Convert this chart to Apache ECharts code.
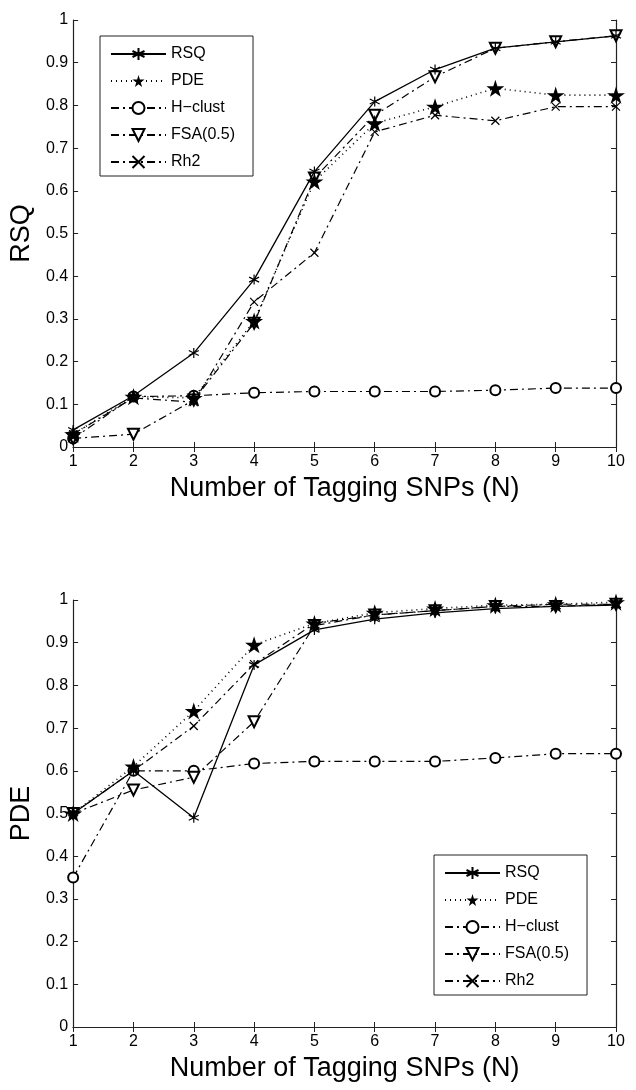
<!DOCTYPE html>
<html>
<head>
<meta charset="utf-8">
<script src="https://cdn.jsdelivr.net/npm/echarts@6/dist/echarts.min.js"></script>
<style>
  html, body { margin: 0; padding: 0; background: #fff; }
  #main { width: 636px; height: 1090px; }
</style>
</head>
<body>
<div id="main"></div>
<script>
// x axis: number of tagging SNPs
var snps = [1, 2, 3, 4, 5, 6, 7, 8, 9, 10];
var methods = ['RSQ', 'PDE', 'H\u2212clust', 'FSA(0.5)', 'Rh2'];

// top panel (RSQ)
var rsqTop   = [0.040, 0.120, 0.220, 0.392, 0.645, 0.809, 0.884, 0.934, 0.949, 0.963];
var pdeTop   = [0.030, 0.118, 0.115, 0.295, 0.622, 0.758, 0.797, 0.840, 0.824, 0.824];
var hclTop   = [0.020, 0.118, 0.120, 0.127, 0.130, 0.130, 0.130, 0.133, 0.138, 0.138];
var fsaTop   = [0.020, 0.030, 0.110, 0.290, 0.630, 0.777, 0.867, 0.934, 0.949, 0.963];
var rh2Top   = [0.030, 0.115, 0.105, 0.340, 0.455, 0.738, 0.777, 0.764, 0.797, 0.797];

// bottom panel (PDE)
var rsqBot   = [0.500, 0.600, 0.490, 0.848, 0.930, 0.955, 0.970, 0.980, 0.985, 0.988];
var pdeBot   = [0.500, 0.610, 0.740, 0.895, 0.945, 0.970, 0.980, 0.988, 0.990, 0.995];
var hclBot   = [0.350, 0.600, 0.600, 0.617, 0.622, 0.622, 0.622, 0.630, 0.640, 0.640];
var fsaBot   = [0.500, 0.555, 0.585, 0.715, 0.940, 0.965, 0.975, 0.985, 0.985, 0.990];
var rh2Bot   = [0.500, 0.600, 0.705, 0.850, 0.945, 0.965, 0.975, 0.985, 0.990, 0.990];

var font = 'Liberation Sans, Arial, sans-serif';

// marker shapes
var asterisk = 'path://M5,0 L5,10 M0.67,2.5 L9.33,7.5 M0.67,7.5 L9.33,2.5';
var star = 'path://M50,0 L61,35 L98,35 L68,57 L79,91 L50,70 L21,91 L32,57 L2,35 L39,35 Z';
var cross = 'path://M0,0 L10,10 M10,0 L0,10';
var dashDot = [8, 4, 2, 4];

function pairs(vals) {
  return snps.map(function (x, i) { return [x, vals[i]]; });
}

// one set of five series for a panel
function panelSeries(idx, vals) {
  var common = { type: 'line', xAxisIndex: idx, yAxisIndex: idx, animation: false };
  return [
    Object.assign({}, common, {
      name: methods[0], data: pairs(vals[0]), z: 5,
      symbol: asterisk, symbolSize: 10,
      lineStyle: { color: '#000', width: 1.3, type: 'solid' },
      itemStyle: { color: '#000', borderColor: '#000', borderWidth: 1.2 }
    }),
    Object.assign({}, common, {
      name: methods[1], data: pairs(vals[1]), z: 4,
      symbol: star, symbolSize: 18, symbolKeepAspect: true,
      lineStyle: { color: '#000', width: 1.6, type: [1, 4] },
      itemStyle: { color: '#000', borderWidth: 0 }
    }),
    Object.assign({}, common, {
      name: methods[2], data: pairs(vals[2]), z: 3,
      symbol: 'emptyCircle', symbolSize: 10,
      lineStyle: { color: '#000', width: 1.2, type: dashDot },
      itemStyle: { color: '#000', borderColor: '#000', borderWidth: 1.3 }
    }),
    Object.assign({}, common, {
      name: methods[3], data: pairs(vals[3]), z: 3,
      symbol: 'emptyTriangle', symbolRotate: 180, symbolSize: 11,
      lineStyle: { color: '#000', width: 1.2, type: dashDot },
      itemStyle: { color: '#000', borderColor: '#000', borderWidth: 1.3 }
    }),
    Object.assign({}, common, {
      name: methods[4], data: pairs(vals[4]), z: 3,
      symbol: cross, symbolSize: 8,
      lineStyle: { color: '#000', width: 1.2, type: dashDot },
      itemStyle: { color: '#000', borderColor: '#000', borderWidth: 1.2 }
    })
  ];
}

function xAxes(gridIndex) {
  return [
    {
      type: 'value', gridIndex: gridIndex, min: 1, max: 10, interval: 1, position: 'bottom',
      name: 'Number of Tagging SNPs (N)', nameLocation: 'middle', nameGap: 28,
      nameTextStyle: { fontFamily: font, fontSize: 27, color: '#000' },
      axisLine: { lineStyle: { color: '#222', width: 1.2 } },
      axisTick: { inside: true, length: 5, lineStyle: { color: '#222' } },
      axisLabel: { fontFamily: font, fontSize: 16, color: '#000', margin: 7 },
      splitLine: { show: false }
    },
    {
      type: 'value', gridIndex: gridIndex, min: 1, max: 10, interval: 1, position: 'top',
      axisLine: { lineStyle: { color: '#222', width: 1.2 } },
      axisTick: { inside: true, length: 5, lineStyle: { color: '#222' } },
      axisLabel: { show: false }, splitLine: { show: false }
    }
  ];
}

function yAxes(gridIndex, title) {
  return [
    {
      type: 'value', gridIndex: gridIndex, min: 0, max: 1, interval: 0.1, position: 'left',
      name: title, nameLocation: 'middle', nameGap: 37,
      nameTextStyle: { fontFamily: font, fontSize: 27, color: '#000' },
      axisLine: { show: true, lineStyle: { color: '#222', width: 1.2 } },
      axisTick: { show: true, inside: true, length: 5, lineStyle: { color: '#222' } },
      axisLabel: { fontFamily: font, fontSize: 16, color: '#000', margin: 5 },
      splitLine: { show: false }
    },
    {
      type: 'value', gridIndex: gridIndex, min: 0, max: 1, interval: 0.1, position: 'right',
      axisLine: { show: true, lineStyle: { color: '#222', width: 1.2 } },
      axisTick: { show: true, inside: true, length: 5, lineStyle: { color: '#222' } },
      axisLabel: { show: false }, splitLine: { show: false }
    }
  ];
}

function legendBox(id, left, top) {
  return {
    id: id, orient: 'vertical', left: left, top: top,
    padding: [10, 18, 6, 10], itemGap: 11, itemWidth: 55, itemHeight: 15,
    borderColor: '#222', borderWidth: 1, backgroundColor: '#fff',
    textStyle: { fontFamily: font, fontSize: 16, color: '#000' },
    data: methods, selectedMode: false
  };
}

var chart = echarts.init(document.getElementById('main'));
chart.setOption({
  backgroundColor: '#fff',
  animation: false,
  grid: [
    { left: 73, right: 20, top: 20, height: 427 },
    { left: 73, right: 20, top: 600, height: 427 }
  ],
  xAxis: xAxes(0).concat(xAxes(1)),
  yAxis: yAxes(0, 'RSQ').concat(yAxes(1, 'PDE')),
  legend: [legendBox('l1', 100, 36), legendBox('l2', 434, 855)],
  series: panelSeries(0, [rsqTop, pdeTop, hclTop, fsaTop, rh2Top])
    .concat(panelSeries(2, [rsqBot, pdeBot, hclBot, fsaBot, rh2Bot]))
});
</script>
</body>
</html>
